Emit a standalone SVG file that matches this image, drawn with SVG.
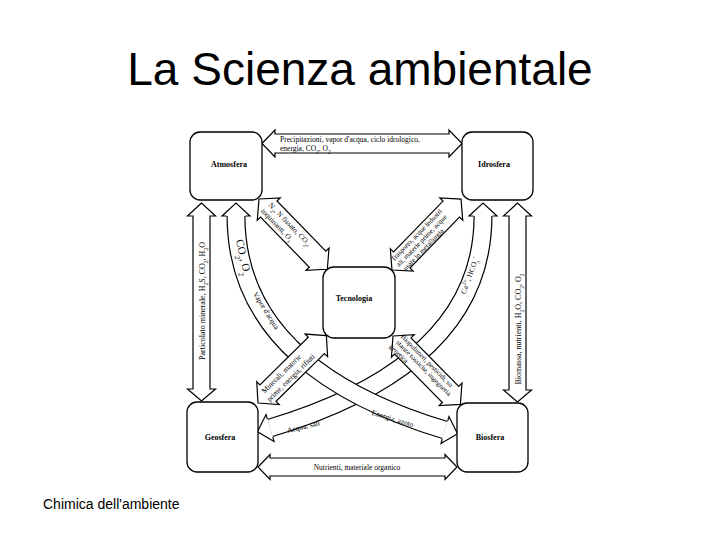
<svg xmlns="http://www.w3.org/2000/svg" width="720" height="540" viewBox="0 0 720 540">
<style>
.title{font-family:"Liberation Sans",Arial,sans-serif;font-size:46px;fill:#000;text-anchor:middle}
.foot{font-family:"Liberation Sans",Arial,sans-serif;font-size:14px;fill:#000}
.box{fill:#fff;stroke:#000;stroke-width:1.3}
.blab{font-family:"Liberation Serif","Times New Roman",serif;font-size:8px;font-weight:bold;text-anchor:middle;fill:#000}
.arr{fill:#fff;stroke:#000;stroke-width:1.2;stroke-linejoin:miter}
.t{font-family:"Liberation Serif","Times New Roman",serif;font-size:7.5px;fill:#000}
.ts{font-family:"Liberation Serif","Times New Roman",serif;font-size:7px;fill:#000}
.tm{text-anchor:middle}
.sub{font-size:70%;baseline-shift:sub}
.sup{font-size:70%;baseline-shift:super}
.bandO{fill:none;stroke:#000;stroke-width:19}
.bandI{fill:none;stroke:#fff;stroke-width:16.6}
.head{fill:#fff;stroke:#000;stroke-width:1.2;stroke-linejoin:miter}
</style>
<rect width="720" height="540" fill="#fff"/>
<text class="title" x="360" y="85">La Scienza ambientale</text>
<text class="foot" x="43" y="509">Chimica dell'ambiente</text>

<g id="connectors">
  <!-- Idrosfera -> Geosfera curved band -->
  <g id="band-idro-geo">
    <path class="bandO" d="M483,216 C483,335 380,395 270,428"/>
    <path class="bandI" d="M483,216 C483,335 380,395 270,428"/>
    <path class="head" d="M473.5,216 L469,216 L483,203 L497,216 L492.5,216"/>
    <path class="head" d="M272.7,437.1 L274,441.4 L257.5,431.7 L266,414.6 L267.3,418.9"/>
    <text class="t tm" transform="translate(472,276) rotate(-70)">Ca<tspan class="sup">2+</tspan>, HCO<tspan class="sub">3</tspan><tspan class="sup">−</tspan></text>
    <text class="t tm" transform="translate(304,429) rotate(-14)">Acqua, sali</text>
  </g>
  <!-- Atmosfera -> Biosfera curved band -->
  <g id="band-atmo-bio">
    <path class="bandO" d="M236,216 C236,335 335,397 445,430"/>
    <path class="bandI" d="M236,216 C236,335 335,397 445,430"/>
    <path class="head" d="M226.5,216 L222,216 L236,203 L250,216 L245.5,216"/>
    <path class="head" d="M447.7,420.9 L449,416.6 L457.5,433.7 L441,443.4 L442.3,439.1"/>
    <text class="t tm" style="font-size:11px" transform="translate(240,258) rotate(77)">CO<tspan class="sub">2</tspan>, O<tspan class="sub">2</tspan></text>
    <text class="t tm" transform="translate(264,312) rotate(58)">Vapor d'acqua</text>
    <text class="t tm" transform="translate(392,421) rotate(17)">Energia, azoto</text>
  </g>

  <!-- diagonal arrows to Tecnologia -->
  <g id="arr-atmo-tec" transform="translate(259,199) rotate(45.8)">
    <polygon class="arr" points="0,0 14,-16 14,-11.5 84,-11.5 84,-16 98,0 84,16 84,11.5 14,11.5 14,16"/>
    <text class="t" x="11" y="-2">N<tspan class="sub">2</tspan>, N fissato, CO<tspan class="sub">2</tspan>,</text>
    <text class="t" x="10" y="7.5">inquinanti, O<tspan class="sub">3</tspan></text>
  </g>
  <g id="arr-tec-idro" transform="translate(392,270) rotate(-45.8)">
    <polygon class="arr" points="0,0 14,-16 14,-11.5 85,-11.5 85,-16 99,0 85,16 85,11.5 14,11.5 14,16"/>
    <text class="ts" x="7" y="-4.5">Trasporto, acque industri</text>
    <text class="ts" x="7" y="3">ali, materie prime, acque</text>
    <text class="ts" x="9" y="10.5">usate in metallurgia</text>
  </g>
  <g id="arr-geo-tec" transform="translate(258,403) rotate(-44.6)">
    <polygon class="arr" points="0,0 14,-16 14,-11.5 82,-11.5 82,-16 96,0 82,16 82,11.5 14,11.5 14,16"/>
    <text class="t" x="11" y="-2">Minerali, materie</text>
    <text class="t" x="9" y="7.5">prime, energia, rifiuti</text>
  </g>
  <g id="arr-tec-bio" transform="translate(393,336) rotate(45.4)">
    <polygon class="arr" points="0,0 14,-16 14,-11.5 82,-11.5 82,-16 96,0 82,16 82,11.5 14,11.5 14,16"/>
    <text class="ts" x="6" y="-4.5">Biopolimeri, pesticidi, so</text>
    <text class="ts" x="7" y="3">stanze tossiche, ingegneria</text>
    <text class="ts" x="5" y="10.5">genetica</text>
  </g>

  <!-- straight arrows -->
  <g id="arr-atmo-idro">
    <polygon class="arr" points="262,143.5 275,130 275,134 449,134 449,130 462,143.5 449,157 449,153 275,153 275,157"/>
    <text class="t" x="280" y="142">Precipitazioni, vapor d'acqua, ciclo idrologico,</text>
    <text class="t" x="280" y="151">energia, CO<tspan class="sub">2</tspan>, O<tspan class="sub">2</tspan></text>
  </g>
  <g id="arr-geo-bio">
    <polygon class="arr" points="258,467 270,454.5 270,458 445,458 445,454.5 457,467 445,479.5 445,476 270,476 270,479.5"/>
    <text class="t tm" x="357" y="470">Nutrienti, materiale organico</text>
  </g>
  <g id="arr-atmo-geo">
    <polygon class="arr" points="201.5,203 187.5,216 193,216 193,389 187.5,389 201.5,401 215.5,389 210,389 210,216 215.5,216"/>
    <text class="t tm" style="font-size:8px" transform="translate(204.5,301) rotate(-90)">Particolato minerale, H<tspan class="sub">2</tspan>S, CO<tspan class="sub">2</tspan>, H<tspan class="sub">2</tspan>O</text>
  </g>
  <g id="arr-idro-bio">
    <polygon class="arr" points="517.5,203 503.5,216 509,216 509,390 503.5,390 517.5,402 531.5,390 526,390 526,216 531.5,216"/>
    <text class="t tm" style="font-size:8px" transform="translate(520.5,329) rotate(-90)">Biomassa, nutrienti, H<tspan class="sub">2</tspan>O, CO<tspan class="sub">2</tspan>, O<tspan class="sub">2</tspan></text>
  </g>
</g>

<g id="atmosfera">
  <rect class="box" x="190" y="132" width="72" height="68" rx="10"/>
  <text class="blab" x="229" y="167">Atmosfera</text>
</g>
<g id="idrosfera">
  <rect class="box" x="462" y="132" width="71" height="68" rx="10"/>
  <text class="blab" x="494" y="167">Idrosfera</text>
</g>
<g id="tecnologia">
  <rect class="box" x="323" y="267" width="72" height="71" rx="11"/>
  <text class="blab" x="354" y="301">Tecnologia</text>
</g>
<g id="geosfera">
  <rect class="box" x="187" y="402" width="71" height="70" rx="10"/>
  <text class="blab" x="220" y="440">Geosfera</text>
</g>
<g id="biosfera">
  <rect class="box" x="457" y="403" width="71" height="69" rx="10"/>
  <text class="blab" x="490" y="440">Biosfera</text>
</g>
</svg>
